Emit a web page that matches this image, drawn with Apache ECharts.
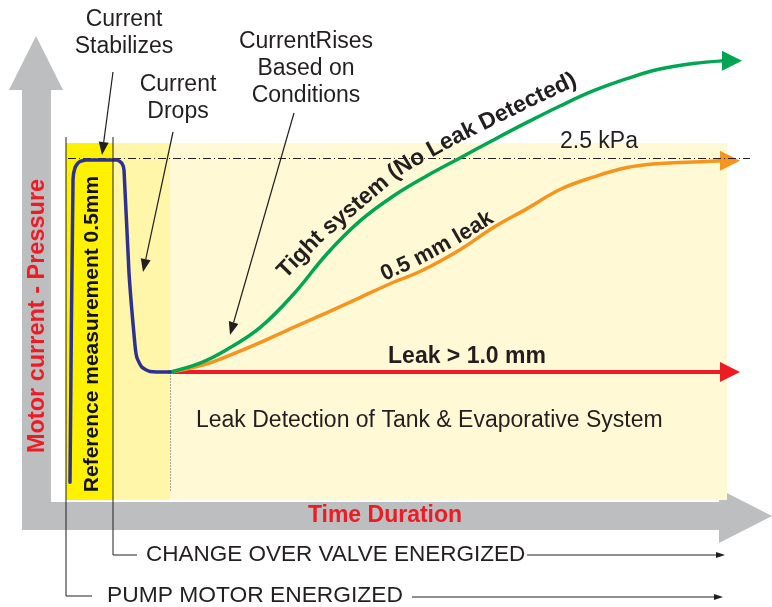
<!DOCTYPE html>
<html><head><meta charset="utf-8">
<script src="https://cdn.jsdelivr.net/npm/echarts@6/dist/echarts.min.js"></script>
<style>html,body{margin:0;padding:0;background:#fff}#c{width:772px;height:607px}</style>
</head><body><div id="c"></div>
<script>
// x: time (arbitrary units, 0 = pump motor energized), y: pressure (kPa)
const referencePhase = [0, 6.71];
const changeoverPhase = [6.71, 14.86];
const detectionPhase = [14.86, 94.43];
const thresholdKPa = 2.5;
const thresholdLabel = '2.5 kPa';
const motorCurrent = [[0.57,0.13],[1.0,2.34],[1.29,2.43],[1.86,2.47],[2.86,2.485],[7.29,2.485],[8.0,2.46],[8.29,2.41],[9.0,1.66],[9.86,1.13],[10.14,1.04],[10.86,0.97],[12.0,0.94],[14.86,0.935]];
const tightSystem = [[14.86,0.935],[19.14,1.0],[23.0,1.10],[27.71,1.26],[32.43,1.50],[37.29,1.80],[42.0,2.04],[46.71,2.22],[51.57,2.37],[56.29,2.50],[61.0,2.63],[65.86,2.76],[70.57,2.88],[75.29,2.99],[80.14,3.08],[84.86,3.15],[89.57,3.19],[93.71,3.21]];
const leak05 = [[14.86,0.935],[19.14,0.98],[23.0,1.05],[27.71,1.15],[32.43,1.26],[37.29,1.37],[42.0,1.48],[46.71,1.59],[50.57,1.67],[56.29,1.83],[61.0,1.99],[65.86,2.13],[70.57,2.27],[75.29,2.36],[80.14,2.43],[84.86,2.46],[89.57,2.47],[93.43,2.48]];
const leak10 = [[14.86,0.935],[93.43,0.935]];
const seriesNames = ['Tight system (No Leak Detected)', '0.5 mm leak', 'Leak > 1.0 mm'];

const FONT = "'Liberation Sans', Arial, Helvetica, sans-serif";
const INK = '#231f20';
const chart = echarts.init(document.getElementById('c'), null, {renderer:'canvas'});

function withArrow(arr, color, w, h) {
  return arr.map((p, i) => i === arr.length - 1
    ? {value: p, symbol: 'triangle', symbolSize: [w, h], symbolRotate: -90, symbolOffset: [h/2, 0], itemStyle: {color}}
    : {value: p});
}
function lineSeries(name, data, color, width, z, arrow, smooth) {
  return {
    type: 'line', name, data: arrow ? withArrow(data, color, 20, 20) : data,
    symbol: 'none', showSymbol: true, showAllSymbol: true, smooth: smooth,
    lineStyle: {color, width, cap: 'round', join: 'round'}, itemStyle: {color},
    z, silent: true, animation: false, clip: false
  };
}
function arrowEls(x1, y1, x2, y2, len, w, color, lw) {
  const a = Math.atan2(y2 - y1, x2 - x1);
  const bx = x2 - len * Math.cos(a), by = y2 - len * Math.sin(a);
  const px = -Math.sin(a) * w / 2, py = Math.cos(a) * w / 2;
  return [
    {type: 'line', z: 20, shape: {x1, y1, x2: bx, y2: by}, style: {stroke: color, lineWidth: lw}},
    {type: 'polygon', z: 20, shape: {points: [[x2, y2], [bx + px, by + py], [bx - px, by - py]]}, style: {fill: color}}
  ];
}
function txt(text, x, y, opts) {
  opts = opts || {};
  return {
    type: 'text', x, y, z: 30, rotation: (opts.rot || 0) * Math.PI / 180, silent: true,
    style: {
      text, fill: opts.color || INK, fontFamily: FONT, fontSize: opts.size || 23,
      fontWeight: opts.bold ? 'bold' : 'normal', lineHeight: opts.lh || 27,
      align: opts.align || 'center', verticalAlign: opts.valign || 'middle',
      textAlign: opts.align || 'center', textVerticalAlign: opts.valign || 'middle'
    }
  };
}
// lay a label out character by character along a guide path (label placement only)
function textOnPath(str, pts, size, start) {
  const ctx = document.createElement('canvas').getContext('2d');
  ctx.font = 'bold ' + size + 'px ' + FONT;
  const cum = [0];
  for (let i = 1; i < pts.length; i++) cum.push(cum[i-1] + Math.hypot(pts[i][0]-pts[i-1][0], pts[i][1]-pts[i-1][1]));
  function at(s) {
    s = Math.max(0, Math.min(cum[cum.length-1], s));
    let i = 1; while (i < cum.length - 1 && cum[i] < s) i++;
    const t = (s - cum[i-1]) / (cum[i] - cum[i-1]);
    return [pts[i-1][0] + t*(pts[i][0]-pts[i-1][0]), pts[i-1][1] + t*(pts[i][1]-pts[i-1][1])];
  }
  const els = [];
  let s = start || 0;
  for (const ch of str) {
    const w = ctx.measureText(ch).width;
    const c = s + w/2;
    const p = at(c), a1 = at(c - 10), a2 = at(c + 10);
    const ang = Math.atan2(a2[1]-a1[1], a2[0]-a1[0]);
    if (ch !== ' ') els.push(txt(ch, p[0], p[1], {bold: true, size, rot: -ang * 180 / Math.PI}));
    s += w;
  }
  return els;
}

const graphics = [
  {type: 'polygon', z: 0, silent: true, shape: {points: [[22,530],[22,90],[9,90],[36,36],[63,90],[51,90],[51,502],[719,502],[719,489],[772,516],[719,543],[719,530]]}, style: {fill: '#bcbec0'}},
  {type: 'polyline', z: 20, shape: {points: [[66,137],[66,596],[92,596]]}, style: {stroke: INK, lineWidth: 1, fill: null}},
  {type: 'polyline', z: 20, shape: {points: [[113,137],[113,555],[137,555]]}, style: {stroke: INK, lineWidth: 1, fill: null}},
  ...arrowEls(527, 555, 725, 555, 9, 6, INK, 1),
  ...arrowEls(412, 597, 723, 597, 9, 6, INK, 1),
  ...arrowEls(113, 72, 102, 155, 13, 10, INK, 1.2),
  ...arrowEls(173, 132, 143, 272, 13, 10, INK, 1.2),
  ...arrowEls(294, 113, 230, 335, 13, 10, INK, 1.2),
  txt('Current\nStabilizes', 124, 33),
  txt('Current\nDrops', 178, 98.5),
  txt('CurrentRises\nBased on\nConditions', 306, 69),
  txt(thresholdLabel, 599, 141.5),
  txt('Leak Detection of Tank & Evaporative System', 196, 421, {align: 'left', size: 23}),
  txt(seriesNames[2], 467, 357, {bold: true, size: 23}),
  ...textOnPath(seriesNames[1], [[381,276],[420,258],[460,236],[502,210]], 22, 1),
  ...textOnPath(seriesNames[0], [[279,277],[321,234],[354,207],[398,169],[452,139],[533,99],[590,72]], 23, 3),
  txt('Reference measurement 0.5mm', 92, 334, {bold: true, size: 21, rot: 90, color: '#111'}),
  txt('Motor current - Pressure', 38, 316, {bold: true, size: 23.5, rot: 90, color: '#ed1c24'}),
  txt('Time Duration', 385, 516, {bold: true, size: 23, color: '#ed1c24'}),
  txt('CHANGE OVER VALVE ENERGIZED', 146, 555, {align: 'left', size: 22.5}),
  txt('PUMP MOTOR ENERGIZED', 107, 596, {align: 'left', size: 22.8})
];

const option = {
  backgroundColor: '#ffffff',
  animation: false,
  grid: {left: 66, right: 6, top: 21.2, bottom: 107, containLabel: false},
  xAxis: {type: 'value', min: 0, max: 100, show: false},
  yAxis: {type: 'value', min: 0, max: 3.5, show: false},
  series: [
    {
      type: 'line', name: 'zones', data: [], z: 1, silent: true, symbol: 'none',
      markArea: {
        silent: true,
        data: [
          [{xAxis: referencePhase[0], yAxis: 0, itemStyle: {color: '#fff200'}}, {xAxis: referencePhase[1], yAxis: 2.61}],
          [{xAxis: changeoverPhase[0], yAxis: 0, itemStyle: {color: '#fff6a9'}}, {xAxis: changeoverPhase[1], yAxis: 2.61}],
          [{xAxis: detectionPhase[0], yAxis: 0, itemStyle: {color: '#fffad5'}}, {xAxis: detectionPhase[1], yAxis: 2.61}]
        ]
      },
      markLine: {
        silent: true, symbol: ['none', 'none'], label: {show: false},
        data: [
          [{coord: [0.29, thresholdKPa], lineStyle: {color: INK, width: 1, type: [8, 3, 1, 3]}}, {coord: [97.71, thresholdKPa]}],
          [{coord: [detectionPhase[0], 0.91], lineStyle: {color: '#555', width: 1, type: [1, 2]}}, {coord: [detectionPhase[0], 0.06]}]
        ]
      }
    },
    lineSeries(seriesNames[2], leak10, '#ed1c24', 4, 3, true, false),
    lineSeries(seriesNames[1], leak05, '#f7941d', 3.5, 4, true, 0.4),
    lineSeries(seriesNames[0], tightSystem, '#00a651', 3.5, 5, true, 0.4),
    lineSeries('Motor current', motorCurrent, '#2e3192', 3.5, 6, false, 0.2)
  ],
  graphic: {elements: graphics}
};
chart.setOption(option);
</script></body></html>
